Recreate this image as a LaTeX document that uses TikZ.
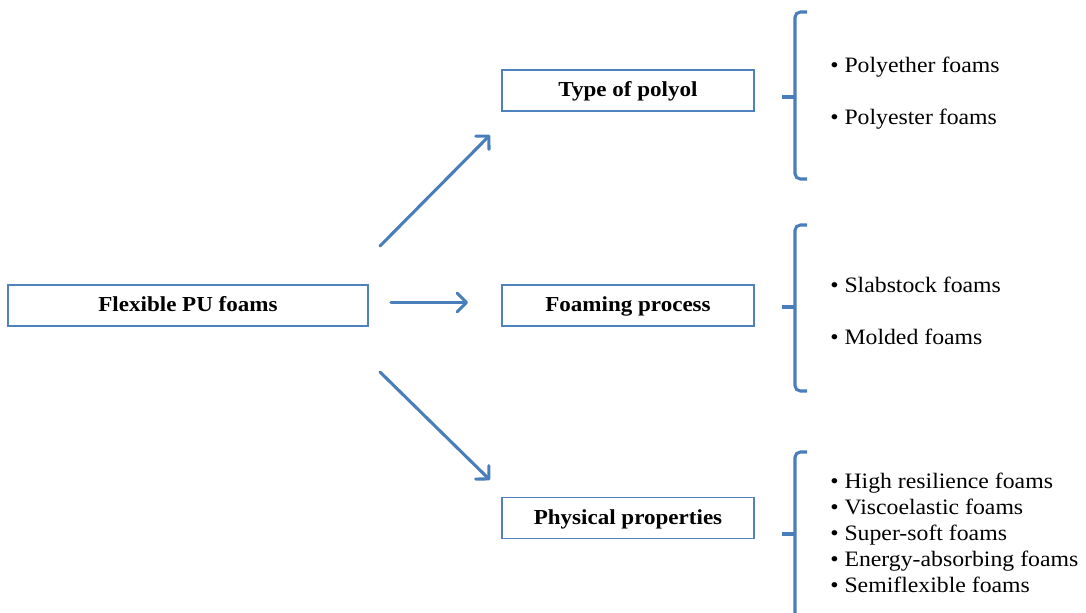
\documentclass[tikz,border=0pt]{standalone}
\usepackage{fontspec}
\setmainfont{Liberation Serif}[FakeStretch=1.08]
\usetikzlibrary{arrows.meta}
\definecolor{ablue}{HTML}{4F81BD}
\definecolor{arrblue}{HTML}{4A7EBB}
\tikzset{
  catbox/.style={draw=ablue, line width=1.1pt, minimum height=30.75pt, inner sep=0pt,
    text height=12.5pt, text depth=3pt,
    font=\bfseries\fontsize{16}{18}\selectfont, text=black},
  conn/.style={draw=arrblue, line width=2.3pt, line cap=round,
    -{Straight Barb[length=7pt, width=14pt, line width=2.3pt, round]}},
  bracket/.style={draw=arrblue, line width=2.3pt, rounded corners=4pt},
  stub/.style={draw=arrblue, line width=2.3pt},
  item/.style={anchor=base west, inner sep=0pt, font=\fontsize{16.5}{18}\selectfont, text=black}
}
\begin{document}
\begin{tikzpicture}[x=0.75pt,y=-0.75pt]
\useasboundingbox (0,0) rectangle (1086,612);
% boxes
\node[catbox, minimum width=270pt] (flex) at (188,305.5) {Flexible PU foams};
\node[catbox, minimum width=189pt] (poly) at (628,90.5) {Type of polyol};
\node[catbox, minimum width=189pt] (foam) at (628,305.5) {Foaming process};
\node[catbox, minimum width=189pt] (phys) at (628,518) {Physical properties};
% arrows
\coordinate (a1s) at (380,246);
\coordinate (a1e) at (490,135);
\coordinate (a2s) at (391,302.5);
\coordinate (a2e) at (468,302.5);
\coordinate (a3s) at (380,372);
\coordinate (a3e) at (490,480);
\draw[conn] (a1s) -- (a1e);
\draw[conn] (a2s) -- (a2e);
\draw[conn] (a3s) -- (a3e);
% brackets
\draw[bracket] (807,12) -- (795,12) -- (795,179) -- (807,179);
\draw[stub] (782,97) -- (795,97);
\draw[bracket] (807,225) -- (795,225) -- (795,391) -- (807,391);
\draw[stub] (782,307) -- (795,307);
\draw[bracket] (807,452) -- (795,452) -- (795,620) -- (807,620);
\draw[stub] (782,534) -- (795,534);
% items
\node[item] (i1) at (830,72) {\textbullet\ Polyether foams};
\node[item] (i2) at (830,124) {\textbullet\ Polyester foams};
\node[item] (i3) at (830,292) {\textbullet\ Slabstock foams};
\node[item] (i4) at (830,344) {\textbullet\ Molded foams};
\node[item] (i5) at (830,488) {\textbullet\ High resilience foams};
\node[item] (i6) at (830,514) {\textbullet\ Viscoelastic foams};
\node[item] (i7) at (830,540) {\textbullet\ Super-soft foams};
\node[item] (i8) at (830,566) {\textbullet\ Energy-absorbing foams};
\node[item] (i9) at (830,592) {\textbullet\ Semiflexible foams};
\end{tikzpicture}
\end{document}
